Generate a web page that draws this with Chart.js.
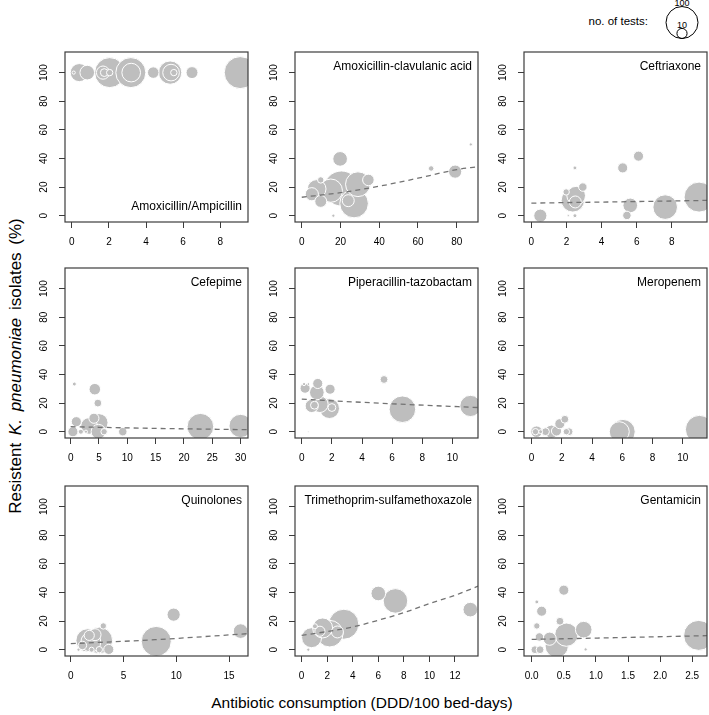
<!DOCTYPE html>
<html>
<head>
<meta charset="utf-8">
<script src="https://cdn.jsdelivr.net/npm/chart.js@4"></script>
<style>
body { margin: 0; background: #fff; }
#wrap { position: relative; width: 709px; height: 715px; font-family: "Liberation Sans", Arial, sans-serif; color: #000; }
#wrap canvas { position: absolute; }
#ylab { position: absolute; left: 16px; top: 366px; transform: translate(-50%, -50%) rotate(-90deg); white-space: nowrap; font-size: 17px; word-spacing: 3px; }
#xlab { position: absolute; left: 362px; top: 703px; transform: translate(-50%, -50%); white-space: nowrap; font-size: 15.5px; }
#legend { position: absolute; left: 0; top: 0; }
</style>
</head>
<body>
<div id="wrap">
  <div id="ylab">Resistent <i>K. pneumoniae</i> isolates (%)</div>
  <div id="xlab">Antibiotic consumption (DDD/100 bed-days)</div>
  <svg id="legend" width="709" height="45"></svg>
</div>
<script>
// panel names
const drugs = ['Amoxicillin/Ampicillin', 'Amoxicillin-clavulanic acid', 'Ceftriaxone',
  'Cefepime', 'Piperacillin-tazobactam', 'Meropenem',
  'Quinolones', 'Trimethoprim-sulfamethoxazole', 'Gentamicin'];

// consumption (x), resistance % (y), number of tests (bubble size)
const amoxX = [0.1, 0.4, 0.83, 2.04, 1.68, 1.75, 2.04, 3.18, 3.2, 4.39, 5.3, 5.35, 5.5, 6.48, 9.08];
const amoxY = [100, 100, 100, 100, 100, 100, 100, 100, 100, 100, 100, 100, 100, 100, 100];
const amoxN = [1, 32, 21, 88, 17, 6, 4, 88, 34, 13, 53, 27, 4, 14, 100];

const coamoxX = [5.2, 7.7, 9.8, 9.8, 15, 19.8, 20.5, 27, 29, 24, 34.4, 16.3, 66.8, 79.2, 87.3];
const coamoxY = [15, 18.7, 25, 10, 17.5, 39.7, 19, 8.5, 22, 10.5, 25, 0, 33, 30.8, 49.8];
const coamoxN = [17, 34, 4, 14, 53, 21, 120, 80, 60, 14, 13, 1, 3, 17, 1];

const ceftrX = [0.51, 1.98, 2.36, 2.55, 2.5, 2.93, 2.48, 2.48, 2.1, 5.2, 6.1, 5.63, 5.44, 7.62, 9.55];
const ceftrY = [0, 16.6, 10.7, 14, 9.6, 20, 33.4, 0, 0, 33.4, 41.6, 7.2, 0.2, 6, 13];
const ceftrN = [17, 4, 53, 34, 14, 7, 1.5, 1.5, 0.5, 10, 10, 21, 7, 59, 88];

const cefepX = [0.65, 1.0, 0.4, 1.8, 2.7, 3.25, 4.26, 4.8, 4.1, 5.0, 4.9, 5.9, 9.2, 22.9, 30];
const cefepY = [33.3, 7, 0, 0, 0, 4, 29.7, 20, 9.4, 6.3, 0, 0, 0, 3.5, 4];
const cefepN = [1.5, 10, 10, 2.5, 1, 27, 13, 6, 10, 32, 21, 4, 7, 69, 53];

const piptazX = [0.22, 0.15, 0.44, 0.44, 1.06, 1.0, 0.66, 0.84, 1.2, 1.88, 1.84, 2.0, 5.46, 6.68, 11.2];
const piptazY = [30.4, 33.3, 33.3, 0, 33.7, 27.4, 18, 18.5, 19.2, 29.7, 16.2, 16.9, 36.5, 15.7, 18];
const piptazN = [10, 1, 0.7, 0.2, 10, 21, 17, 6, 27, 10, 39, 6, 6, 69, 44];

const meroX = [0.33, 0.26, 0.6, 0.92, 1.32, 1.65, 1.87, 2.2, 2.48, 2.3, 6.04, 5.8, 11.1];
const meroY = [0, 0, 0, 0, 0, 0.5, 5.6, 8.7, 0, 0, 0, 0, 1.6];
const meroN = [13, 4, 1.5, 6, 17, 10, 10, 6, 6, 4, 59, 39, 77];

const quinX = [0.73, 1.59, 1.9, 2.7, 2.3, 3.08, 1.75, 2.7, 1.97, 3.6, 1.1, 8.1, 9.75, 16.1];
const quinY = [0, 6.5, 5.4, 6.5, 10.5, 16.6, 10, 0, 0, 0.2, 3, 5.8, 24.5, 13];
const quinN = [1, 53, 39, 69, 14, 4, 10, 4, 2.5, 10, 7, 88, 17, 21];

const tmpX = [0.52, 0.78, 1.04, 1.43, 1.64, 2.2, 2.8, 3.3, 6.0, 7.34, 13.2];
const tmpY = [0, 8.4, 16.4, 12.9, 15.2, 11.2, 12.4, 17.8, 39.3, 34.1, 28];
const tmpN = [1, 39, 2.5, 10, 39, 69, 14, 88, 21, 59, 21];

const gentX = [0.08, 0.155, 0.08, 0.12, 0.05, 0.13, 0.28, 0.39, 0.44, 0.5, 0.54, 0.81, 0.84, 2.6];
const gentY = [33.4, 26.9, 16.6, 8.9, 0, 0, 7.7, 2.6, 19.9, 41.6, 10.5, 14, 0.2, 10];
const gentN = [1.5, 10, 4, 7, 6, 6, 17, 53, 6, 10, 53, 27, 1, 88];

// fitted trend lines
const coamoxTrendX = [0, 20, 40, 60, 80, 91];
const coamoxTrendY = [12.9, 16.1, 20.6, 26.2, 32.2, 34.3];
const ceftrTrendX = [0, 5, 10];
const ceftrTrendY = [8.8, 9.7, 10.7];
const cefepTrendX = [0, 15, 31.3];
const cefepTrendY = [3.5, 2.3, 1.4];
const piptazTrendX = [0, 6, 11.7];
const piptazTrendY = [22.7, 19.5, 16.9];
const quinTrendX = [0, 8, 16.8];
const quinTrendY = [4.2, 7, 11.2];
const tmpTrendX = [0, 2, 4, 6, 8, 10, 12, 13.8];
const tmpTrendY = [10.0, 12.7, 15.9, 20.6, 25.9, 32.2, 38, 44.4];
const gentTrendX = [0, 1.3, 2.73];
const gentTrendY = [7.2, 8.4, 9.8];

// axes
const yTicks = [0, 20, 40, 60, 80, 100];
const yRange = [-4.4, 114.4];
const xTicks = [
  [0, 2, 4, 6, 8], [0, 20, 40, 60, 80], [0, 2, 4, 6, 8],
  [0, 5, 10, 15, 20, 25, 30], [0, 2, 4, 6, 8, 10], [0, 2, 4, 6, 8, 10],
  [0, 5, 10, 15], [0, 2, 4, 6, 8, 10, 12], [0, 0.5, 1, 1.5, 2, 2.5]
];
const xRanges = [
  [-0.37, 9.5], [-3.5, 91], [-0.42, 10.0],
  [-1.0, 31.3], [-0.45, 11.7], [-0.5, 11.6],
  [-0.55, 16.8], [-0.52, 13.8], [-0.12, 2.73]
];
const legendTests = [100, 10];

const panelData = [
  [amoxX, amoxY, amoxN, null, null],
  [coamoxX, coamoxY, coamoxN, coamoxTrendX, coamoxTrendY],
  [ceftrX, ceftrY, ceftrN, ceftrTrendX, ceftrTrendY],
  [cefepX, cefepY, cefepN, cefepTrendX, cefepTrendY],
  [piptazX, piptazY, piptazN, piptazTrendX, piptazTrendY],
  [meroX, meroY, meroN, null, null],
  [quinX, quinY, quinN, quinTrendX, quinTrendY],
  [tmpX, tmpY, tmpN, tmpTrendX, tmpTrendY],
  [gentX, gentY, gentN, gentTrendX, gentTrendY]
];

// bubble radius in px, area proportional to no. of tests
function bubbleRadius(n) {
  return 16 * Math.sqrt(n / 100);
}

const FONT = '"Liberation Sans", Arial, sans-serif';
const colLeft = [65, 295, 524];
const rowTop = [52, 268, 486];
const boxW = 183, boxH = 170;
const axisW = 55, axisH = 40, padTop = 5, padRight = 2;

// keep the plot box exactly where we put it: no extra room for label overhang
function noPadding(s) {
  s.paddingTop = 0;
  s.paddingBottom = 0;
  s.paddingLeft = 0;
  s.paddingRight = 0;
}

// box around the plot and the drug name inside it
const panelFrame = {
  id: 'panelFrame',
  afterDraw(chart, args, opts) {
    const ctx = chart.ctx;
    const a = chart.chartArea;
    ctx.save();
    ctx.strokeStyle = '#3c3c3c';
    ctx.lineWidth = 1.2;
    ctx.strokeRect(a.left, a.top, a.right - a.left, a.bottom - a.top);
    ctx.font = '12px ' + FONT;
    ctx.fillStyle = '#000';
    ctx.textAlign = 'right';
    ctx.textBaseline = 'middle';
    const y = opts.bottom ? a.bottom - 15 : a.top + 15;
    ctx.fillText(opts.text, a.right - 6, y);
    ctx.restore();
  }
};

const wrap = document.getElementById('wrap');

drugs.forEach((name, i) => {
  const [xs, ys, ns, tx, ty] = panelData[i];
  const col = i % 3, row = Math.floor(i / 3);

  const canvas = document.createElement('canvas');
  canvas.width = axisW + boxW + padRight;
  canvas.height = padTop + boxH + axisH;
  canvas.style.left = (colLeft[col] - axisW) + 'px';
  canvas.style.top = (rowTop[row] - padTop) + 'px';
  wrap.appendChild(canvas);

  // larger bubbles first so small ones stay visible on top
  const pts = xs.map((x, k) => ({ x: x, y: ys[k], n: ns[k] }));
  pts.sort((a, b) => b.n - a.n);

  const datasets = [{
    type: 'scatter',
    data: pts,
    order: 1,
    clip: 0,
    pointRadius: ctx => ctx.raw ? bubbleRadius(ctx.raw.n) : 0,
    pointBackgroundColor: '#bebebe',
    pointBorderColor: '#ffffff',
    pointBorderWidth: 1
  }];
  if (tx) {
    datasets.push({
      type: 'line',
      data: tx.map((x, k) => ({ x: x, y: ty[k] })),
      order: 0,
      clip: 0,
      borderColor: '#737373',
      borderWidth: 1.3,
      borderDash: [5, 4],
      pointRadius: 0,
      cubicInterpolationMode: 'monotone',
      fill: false
    });
  }

  const tickFont = { family: FONT, size: 10 };
  new Chart(canvas, {
    type: 'scatter',
    data: { datasets: datasets },
    options: {
      responsive: false,
      animation: false,
      events: [],
      layout: { autoPadding: false, padding: { top: padTop, right: padRight, left: 0, bottom: 0 } },
      plugins: {
        legend: { display: false },
        tooltip: { enabled: false },
        panelFrame: { text: name, bottom: i === 0 }
      },
      scales: {
        x: {
          type: 'linear',
          min: xRanges[i][0],
          max: xRanges[i][1],
          afterBuildTicks: s => { s.ticks = xTicks[i].map(v => ({ value: v })); },
          afterFit: s => { s.height = axisH; noPadding(s); },
          ticks: {
            color: '#000', font: tickFont, padding: 8, maxRotation: 0, autoSkip: false,
            callback: v => i === 8 ? v.toFixed(1) : String(v)
          },
          grid: { drawOnChartArea: false, tickLength: 6, color: '#3c3c3c' },
          border: { display: false }
        },
        y: {
          type: 'linear',
          min: yRange[0],
          max: yRange[1],
          afterBuildTicks: s => { s.ticks = yTicks.map(v => ({ value: v })); },
          afterFit: s => { s.width = axisW; noPadding(s); },
          ticks: {
            color: '#000', font: tickFont, padding: 6,
            minRotation: 90, maxRotation: 90, crossAlign: 'center', autoSkip: false
          },
          grid: { drawOnChartArea: false, tickLength: 6, color: '#3c3c3c' },
          border: { display: false }
        }
      }
    },
    plugins: [panelFrame]
  });
});

// "no. of tests" key
const svg = document.getElementById('legend');
const ns = 'http://www.w3.org/2000/svg';
function svgEl(tag, attrs, text) {
  const el = document.createElementNS(ns, tag);
  for (const k in attrs) el.setAttribute(k, attrs[k]);
  if (text) el.textContent = text;
  svg.appendChild(el);
  return el;
}
const keyX = 682, keyBottom = 38.5;
svgEl('text', { x: 648, y: 25, 'text-anchor': 'end', 'font-size': 11.5, 'font-family': 'Liberation Sans, Arial, sans-serif' }, 'no. of tests:');
legendTests.forEach(n => {
  const r = bubbleRadius(n);
  svgEl('circle', { cx: keyX, cy: keyBottom - r, r: r, fill: 'none', stroke: '#000', 'stroke-width': 1 });
  svgEl('text', { x: keyX, y: keyBottom - 2 * r - 0.5, 'text-anchor': 'middle', 'font-size': 9, 'font-family': 'Liberation Sans, Arial, sans-serif' }, String(n));
});
</script>
</body>
</html>
